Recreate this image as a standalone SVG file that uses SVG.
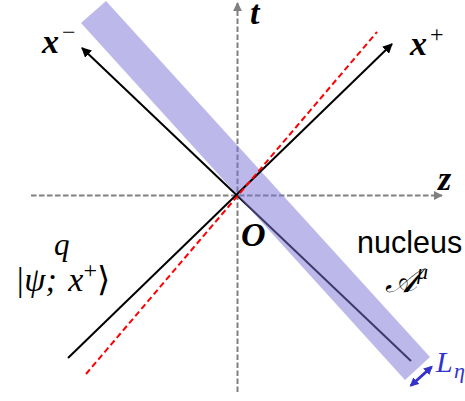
<svg xmlns="http://www.w3.org/2000/svg" width="465" height="401" viewBox="0 0 465 401">
<style>
.axis{stroke:#808080;stroke-width:2;stroke-dasharray:5.5,2.5;fill:none}
.wl{stroke:#000;stroke-width:2;fill:none}
.red{stroke:#ff0000;stroke-width:2;stroke-dasharray:6,3.5;fill:none}
.lbl{font-family:"Liberation Serif",serif;font-weight:bold;font-style:italic;font-size:34px;fill:#000}
.math{font-family:"Liberation Serif","DejaVu Serif",serif;font-style:italic;fill:#000}
.sans{font-family:"Liberation Sans",Arial,sans-serif;fill:#000}
</style>
<defs>
<marker id="ag" viewBox="0 0 10 10" refX="9" refY="5" markerWidth="4.5" markerHeight="4.5" orient="auto" markerUnits="strokeWidth"><path d="M0,0 L10,5 L0,10 z" fill="#808080"/></marker>
<marker id="ak" viewBox="0 0 10 10" refX="9" refY="5" markerWidth="5" markerHeight="5" orient="auto" markerUnits="strokeWidth"><path d="M0,0 L10,5 L0,10 z" fill="#000"/></marker>
<marker id="ab" viewBox="0 0 10 10" refX="8" refY="5" markerWidth="3" markerHeight="3" orient="auto-start-reverse" markerUnits="strokeWidth"><path d="M0,0 L10,5 L0,10 z" fill="#3333cc"/></marker>
</defs>
<g id="connectors">
<line id="z-axis" class="axis" x1="31" y1="195.5" x2="442" y2="195.5" marker-end="url(#ag)"/>
<line id="t-axis" class="axis" x1="237.5" y1="392" x2="237.5" y2="3" marker-end="url(#ag)"/>
<line id="x-minus" class="wl" x1="411" y1="361" x2="82" y2="48" marker-end="url(#ak)"/>
</g>
<g id="band">
<polygon points="81,23 106,1 430,357 405,380" fill="#7b72d6" fill-opacity="0.5"/>
</g>
<g id="connectors2">
<line id="x-plus" class="wl" x1="68" y1="358" x2="392" y2="44" marker-end="url(#ak)"/>
<line id="red-line" class="red" x1="86" y1="374" x2="377" y2="32"/>
<line id="l-eta-arrow" stroke="#3333cc" stroke-width="3" x1="411" y1="385.5" x2="431.5" y2="367" marker-start="url(#ab)" marker-end="url(#ab)"/>
</g>
<g id="label-t"><text class="lbl" x="250" y="24">t</text></g>
<g id="label-xminus"><text class="lbl" x="42" y="53">x</text><text x="62" y="40" style="font-family:'Liberation Serif',serif;font-size:24px">−</text></g>
<g id="label-xplus"><text class="lbl" x="410" y="55">x</text><text x="430" y="42" style="font-family:'Liberation Serif',serif;font-size:24px">+</text></g>
<g id="label-z"><text class="lbl" x="438" y="190">z</text></g>
<g id="label-o"><text class="lbl" x="241" y="246">O</text></g>
<g id="label-q"><text class="math" x="54" y="255" font-size="31">q</text>
<text class="math" x="15" y="291" font-size="34" word-spacing="3">|ψ; x<tspan dy="-13" font-size="24" font-style="normal">+</tspan><tspan dy="13" font-style="normal">⟩</tspan></text></g>
<g id="label-nucleus"><text class="sans" x="357" y="253" font-size="30.5">nucleus</text>
<text class="math" x="385" y="292" font-size="34">𝒜</text><text class="math" x="417" y="279" font-size="22">μ</text></g>
<g id="label-leta"><text class="math" x="436" y="372" font-size="30" style="fill:#3333cc">L</text><text class="math" x="454" y="378" font-size="22" style="fill:#3333cc">η</text></g>
</svg>
